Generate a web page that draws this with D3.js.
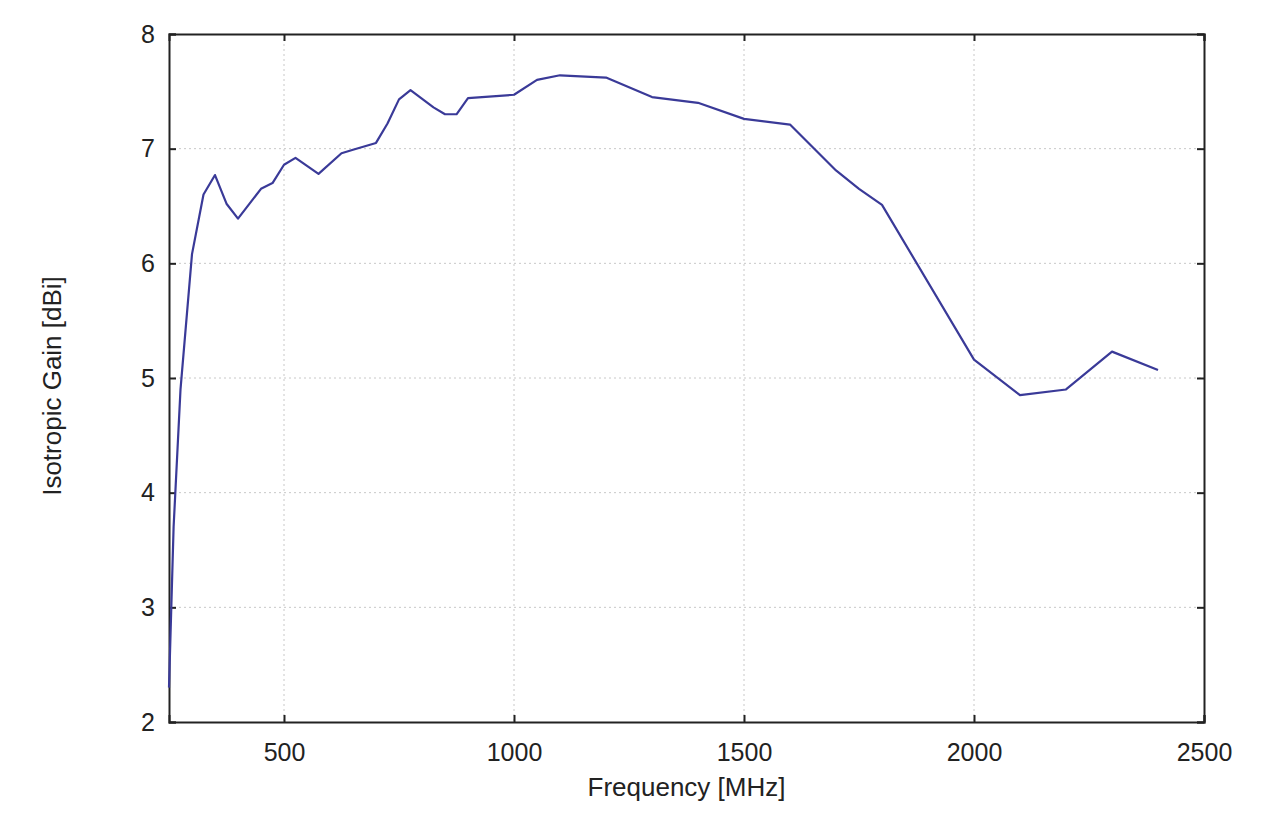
<!DOCTYPE html>
<html>
<head>
<meta charset="utf-8">
<script src="https://cdn.jsdelivr.net/npm/d3@7"></script>
<style>
  html, body { margin: 0; padding: 0; background: #fff; }
  svg { display: block; }
  text { font-family: "Liberation Sans", Arial, sans-serif; fill: #222; }
</style>
</head>
<body>
<script>
const frequency = [250, 260, 275, 300, 325, 350, 375, 400, 450, 475, 500, 525, 575, 625, 650, 700, 725, 750, 775, 825, 850, 875, 900, 1000, 1050, 1100, 1200, 1300, 1400, 1500, 1600, 1700, 1750, 1800, 2000, 2100, 2200, 2300, 2400];
const gain = [2.3, 3.7, 4.9, 6.08, 6.6, 6.77, 6.52, 6.39, 6.65, 6.7, 6.86, 6.92, 6.78, 6.96, 6.99, 7.05, 7.22, 7.43, 7.51, 7.36, 7.30, 7.30, 7.44, 7.47, 7.60, 7.64, 7.62, 7.45, 7.40, 7.26, 7.21, 6.81, 6.65, 6.51, 5.16, 4.85, 4.90, 5.23, 5.07];
const xTicks = [500, 1000, 1500, 2000, 2500];
const yTicks = [2, 3, 4, 5, 6, 7, 8];
const xLabel = "Frequency [MHz]";
const yLabel = "Isotropic Gain [dBi]";

const W = 1280, H = 817;
const m = { left: 169, right: W - 1204, top: 34, bottom: H - 722 };
const iw = W - m.left - m.right, ih = H - m.top - m.bottom;

const svg = d3.select("body").append("svg").attr("width", W).attr("height", H);
const g = svg.append("g").attr("transform", `translate(${m.left},${m.top})`);

const x = d3.scaleLinear().domain([250, 2500]).range([0, iw]);
const y = d3.scaleLinear().domain([2, 8]).range([ih, 0]);

// grid
g.append("g").selectAll("line").data(xTicks.filter(d => d < 2500)).join("line")
  .attr("x1", d => x(d)).attr("x2", d => x(d)).attr("y1", 0).attr("y2", ih)
  .attr("stroke", "#c8c8c8").attr("stroke-width", 1).attr("stroke-dasharray", "2,3");
g.append("g").selectAll("line").data(yTicks.filter(d => d > 2 && d < 8)).join("line")
  .attr("y1", d => y(d)).attr("y2", d => y(d)).attr("x1", 0).attr("x2", iw)
  .attr("stroke", "#c8c8c8").attr("stroke-width", 1).attr("stroke-dasharray", "2,3");

// axes (inward ticks)
const fmt = d3.format("d");
const xb = g.append("g").attr("transform", `translate(0,${ih})`)
  .call(d3.axisBottom(x).tickValues(xTicks).tickSize(-7).tickPadding(21).tickFormat(fmt));
const xt = g.append("g")
  .call(d3.axisTop(x).tickValues(xTicks).tickSize(-7).tickFormat(""));
const yl = g.append("g")
  .call(d3.axisLeft(y).tickValues(yTicks).tickSize(-7).tickPadding(14).tickFormat(fmt));
const yr = g.append("g").attr("transform", `translate(${iw},0)`)
  .call(d3.axisRight(y).tickValues(yTicks).tickSize(-7).tickFormat(""));

[xb, xt, yl, yr].forEach(a => {
  a.select(".domain").attr("stroke", "#222").attr("stroke-width", 2);
  a.selectAll(".tick line").attr("stroke", "#222").attr("stroke-width", 2);
  a.selectAll(".tick text").attr("font-size", 25).attr("fill", "#222")
    .attr("font-family", '"Liberation Sans", Arial, sans-serif');
});

// line
const line = d3.line().x((d, i) => x(frequency[i])).y((d, i) => y(gain[i]));
g.append("path").datum(gain).attr("d", line)
  .attr("fill", "none").attr("stroke", "#3a3a98").attr("stroke-width", 2.2)
  .attr("stroke-linejoin", "round");

// labels
svg.append("text").attr("x", m.left + iw / 2).attr("y", 796)
  .attr("text-anchor", "middle").attr("font-size", 26).text(xLabel);
svg.append("text").attr("transform", `translate(61,386) rotate(-90)`)
  .attr("text-anchor", "middle").attr("font-size", 26).text(yLabel);
</script>
</body>
</html>
